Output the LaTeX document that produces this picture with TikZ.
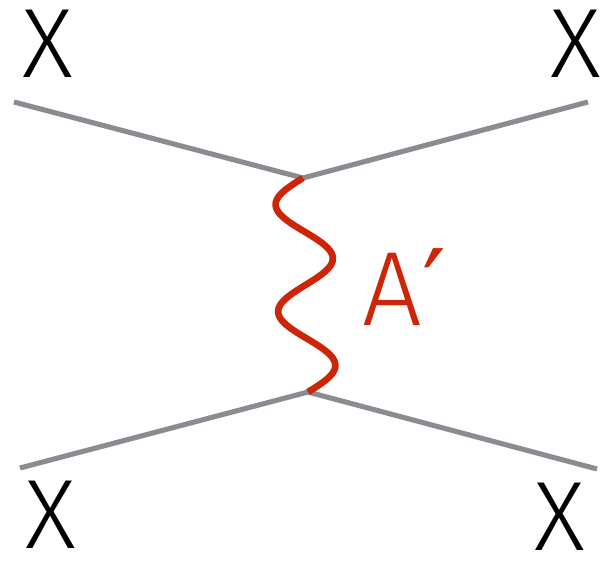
\documentclass[tikz,border=0pt]{standalone}
\usepackage{fontspec}
\setmainfont{Fira Sans}[UprightFont=* Light]
\newfontfamily\primefont{DejaVu Sans}
\definecolor{leggray}{RGB}{137,140,145}
\definecolor{photonred}{RGB}{204,37,8}

\begin{document}
\begin{tikzpicture}[
  x=0.01cm, y=0.01cm,
  leg/.style={draw=leggray, line width=1.45pt},
  photon/.style={draw=photonred, line width=1.9pt},
  lab/.style={inner sep=0pt, font=\fontsize{28}{30}\selectfont},
  plab/.style={lab, text=photonred, font=\fontsize{30}{32}\selectfont}
]
\useasboundingbox (0,0) rectangle (606,560);

% vertices and ends of the legs
\coordinate (vtop) at (303,382);
\coordinate (vbot) at (308,168);
\coordinate (tl) at (14,458);
\coordinate (tr) at (588,458);
\coordinate (bl) at (20,92);
\coordinate (br) at (597,91);

\node[lab] (xtl) at (48,516) {X};
\node[lab] (xtr) at (576,516) {X};
\node[lab] (xbl) at (51,45) {X};
\node[lab] (xbr) at (560,43) {X};
\node[plab, anchor=west] (aprime) at (362,273) {A{\primefont ′}};

\draw[leg] (tl) -- (vtop) -- (tr);
\draw[leg] (bl) -- (vbot) -- (br);
% photon: two full waves from vtop down to vbot
\draw[photon, shift={(vtop)}] plot[domain=0:1, samples=90, smooth]
  ({5*\x-28*sin(720*\x)}, {-214*\x}) -- (vbot);
\end{tikzpicture}
\end{document}
